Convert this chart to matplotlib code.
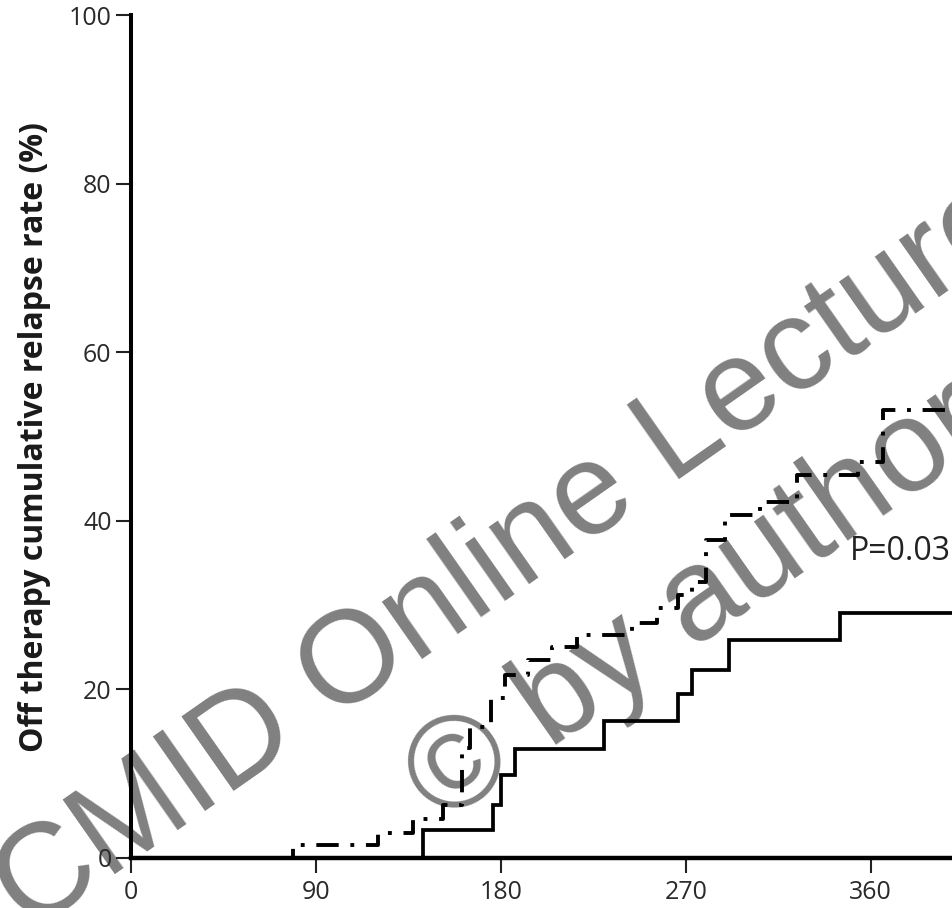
import matplotlib
matplotlib.use("Agg")
import matplotlib.pyplot as plt

# cumulative relapse after stopping therapy (step curves)
days_dashdot = [0, 79, 120, 137, 152, 161, 165, 175, 182, 193, 205, 217, 244, 256,
                266, 273, 280, 289, 306, 324, 354, 366]
rate_dashdot = [0, 1.5, 3.0, 4.6, 6.3, 13.1, 15.5, 19.0, 21.7, 23.5, 25.0, 26.5, 27.9, 29.7,
                31.2, 32.8, 37.7, 40.7, 42.3, 45.5, 47.0, 53.2]

days_solid = [0, 142, 176, 180, 187, 230, 266, 273, 291, 345]
rate_solid = [0, 3.3, 6.3, 9.8, 12.9, 16.3, 19.5, 22.3, 25.9, 29.1]

follow_up_end = 420
x_ticks = [0, 90, 180, 270, 360]
y_ticks = [0, 20, 40, 60, 80, 100]
p_text = "P=0.03"

fig = plt.figure(figsize=(9.53, 9.08), dpi=100, facecolor="white")
ax = fig.add_axes([0.1375, 0.0551, 0.8625, 0.928])
ax.patch.set_facecolor("none")

# extend the last level to the end of follow-up
xd = days_dashdot + [follow_up_end]
yd = rate_dashdot + [rate_dashdot[-1]]
xs = days_solid + [follow_up_end]
ys = rate_solid + [rate_solid[-1]]

ax.step(xs, ys, where="post", color="black", lw=2.7, solid_joinstyle="miter")
ax.step(xd, yd, where="post", color="black", lw=2.8,
        linestyle=(0, (5.75, 3.0, 1.0, 3.0)), dash_capstyle="butt")

ax.set_xlim(0, 400)
ax.set_ylim(0, 100)
ax.set_xticks(x_ticks)
ax.set_yticks(y_ticks)

for side in ["top", "right"]:
    ax.spines[side].set_visible(False)
ax.spines["left"].set_linewidth(2.9)
ax.spines["bottom"].set_linewidth(3.2)
ax.spines["left"].set_capstyle("projecting")
ax.spines["bottom"].set_capstyle("projecting")

ax.tick_params(axis="both", length=11, width=1.5, color="#222222",
               labelsize=18, labelcolor="#2a2a2a")
ax.tick_params(axis="y", pad=3)
ax.tick_params(axis="x", pad=5)
for lab in ax.get_xticklabels() + ax.get_yticklabels():
    lab.set_family("Open Sans")

ax.set_ylabel("Off therapy cumulative relapse rate (%)", fontsize=23,
              fontweight="bold", family="Open Sans", color="#1a1a1a")
ax.yaxis.set_label_coords(-0.097, 0.5)

ax.text(350, 35.4, p_text, fontsize=23, family="Open Sans", color="#222222",
        ha="left", va="baseline")

# watermark of the source slide
fig.text(0.031, -0.029, "CMID Online Lecture", rotation=35, rotation_mode="anchor",
         ha="left", va="baseline", fontsize=94, color="#808080",
         family="Liberation Sans", zorder=-1)
fig.text(0.4638, 0.0903, "\u00a9 by author", rotation=35, rotation_mode="anchor",
         ha="left", va="baseline", fontsize=94, color="#808080",
         family="Liberation Sans", zorder=-1)

fig.savefig("out.png", dpi=100, facecolor="white")
